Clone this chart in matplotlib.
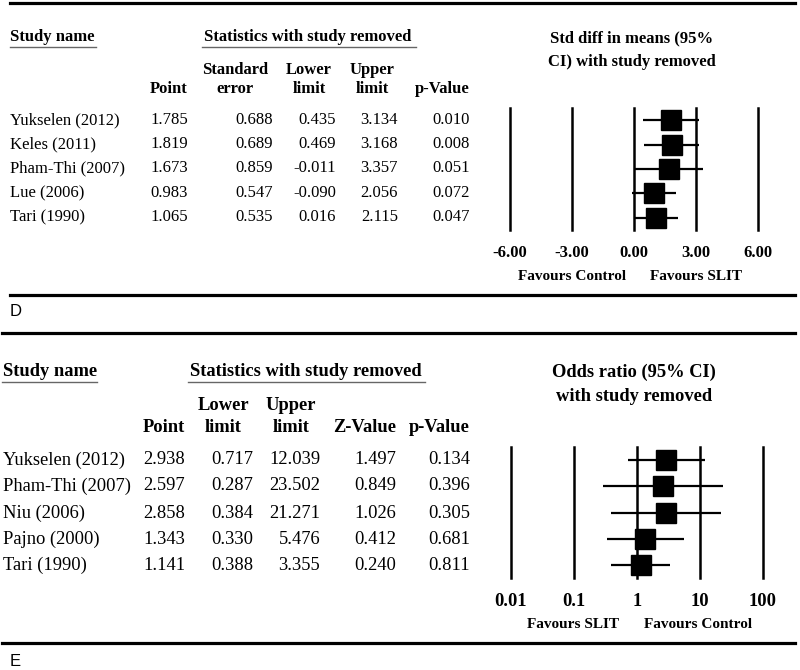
"""
Leave-one-out sensitivity tables with forest plots (panels D and E).
"""

import numpy as np
import matplotlib
matplotlib.use('Agg')
import matplotlib.pyplot as plt
from matplotlib.lines import Line2D

W, H = 800, 670

# ---- panel D data: std diff in means ----
studies_d = ['Yukselen (2012)', 'Keles (2011)', 'Pham-Thi (2007)', 'Lue (2006)', 'Tari (1990)']
point_d = [1.785, 1.819, 1.673, 0.983, 1.065]
se_d = [0.688, 0.689, 0.859, 0.547, 0.535]
lower_d = [0.435, 0.469, -0.011, -0.090, 0.016]
upper_d = [3.134, 3.168, 3.357, 2.056, 2.115]
pval_d = [0.010, 0.008, 0.051, 0.072, 0.047]
ticks_d = [-6, -3, 0, 3, 6]

# ---- panel E data: odds ratio ----
studies_e = ['Yukselen (2012)', 'Pham-Thi (2007)', 'Niu (2006)', 'Pajno (2000)', 'Tari (1990)']
point_e = [2.938, 2.597, 2.858, 1.343, 1.141]
lower_e = [0.717, 0.287, 0.384, 0.330, 0.388]
upper_e = [12.039, 23.502, 21.271, 5.476, 3.355]
zval_e = [1.497, 0.849, 1.026, 0.412, 0.240]
pval_e = [0.134, 0.396, 0.305, 0.681, 0.811]
ticks_e = [0.01, 0.1, 1, 10, 100]
ticklabels_e = ['0.01', '0.1', '1', '10', '100']

SERIF = 'Liberation Serif'

fig = plt.figure(figsize=(W / 100, H / 100), dpi=100)


def fx(x):
    return x / W


def fy(y):
    return 1 - y / H


def txt(x, y, s, size, bold=False, ha='left', **kw):
    fig.text(fx(x), fy(y), s, fontsize=size, family=SERIF,
             fontweight='bold' if bold else 'normal', ha=ha, va='center', **kw)


def hrule(x0, x1, y, lw=2.3, color='black'):
    fig.add_artist(Line2D([fx(x0), fx(x1)], [fy(y), fy(y)], lw=lw, color=color,
                          transform=fig.transFigure))


def forest(left, right, top, bottom, point, lo, hi, ticks, ticklabels, log, fav, size):
    ax = fig.add_axes([fx(left), fy(bottom), fx(right - left), (bottom - top) / H])
    n = len(point)
    ys = np.arange(n)
    if log:
        ax.set_xscale('log')
    ax.set_xlim(ticks[0], ticks[-1])
    ax.set_ylim(n - 0.5, -0.5)
    for t in ticks:
        ax.axvline(t, color='black', lw=1.8, clip_on=False)
    ax.hlines(ys, lo, hi, color='black', lw=1.6)
    ax.plot(point, ys, 's', color='black', ms=14.5)
    ax.set_xticks(ticks)
    ax.set_xticklabels(ticklabels)
    ax.minorticks_off()
    ax.set_yticks([])
    ax.tick_params(axis='x', length=0, pad=11)
    for lab in ax.get_xticklabels():
        lab.set_fontfamily(SERIF)
        lab.set_fontweight('bold')
        lab.set_fontsize(size)
    for sp in ax.spines.values():
        sp.set_visible(False)
    ax.patch.set_alpha(0)
    return ax


# ================= Panel D =================
sd = 12
hrule(10, 795, 3)
txt(10, 37, 'Study name', sd, bold=True)
hrule(10, 96, 47, lw=1, color='#666666')
txt(308, 37, 'Statistics with study removed', sd, bold=True, ha='center')
hrule(202, 416, 47, lw=1, color='#666666')

txt(188, 89, 'Point', sd, bold=True, ha='right')
txt(235, 70, 'Standard', sd, bold=True, ha='center')
txt(235, 89, 'error', sd, bold=True, ha='center')
txt(309, 70, 'Lower', sd, bold=True, ha='center')
txt(309, 89, 'limit', sd, bold=True, ha='center')
txt(372, 70, 'Upper', sd, bold=True, ha='center')
txt(372, 89, 'limit', sd, bold=True, ha='center')
txt(470, 89, 'p-Value', sd, bold=True, ha='right')

rows_d = [120, 144, 168, 193, 217]
for i, y in enumerate(rows_d):
    txt(10, y, studies_d[i], sd)
    txt(188, y, f'{point_d[i]:.3f}', sd, ha='right')
    txt(273, y, f'{se_d[i]:.3f}', sd, ha='right')
    txt(336, y, f'{lower_d[i]:.3f}', sd, ha='right')
    txt(398, y, f'{upper_d[i]:.3f}', sd, ha='right')
    txt(470, y, f'{pval_d[i]:.3f}', sd, ha='right')

txt(632, 38, 'Std diff in means (95%', sd, bold=True, ha='center')
txt(632, 62, 'CI) with study removed', sd, bold=True, ha='center')

ax_d = forest(510, 758, 108, 230, point_d, lower_d, upper_d, ticks_d,
              [f'{t:.2f}' for t in ticks_d], False, None, sd)
txt(572, 276, 'Favours Control', 11, bold=True, ha='center')
txt(696, 276, 'Favours SLIT', 11, bold=True, ha='center')

hrule(10, 795, 295)
fig.text(fx(10), fy(312), 'D', fontsize=12, family='Liberation Sans', va='center')

# ================= Panel E =================
se_ = 13.3
hrule(2, 795, 333)
txt(3, 372, 'Study name', se_, bold=True)
hrule(2, 97, 382, lw=1, color='#666666')
txt(306, 372, 'Statistics with study removed', se_, bold=True, ha='center')
hrule(188, 425, 382, lw=1, color='#666666')

txt(185, 427, 'Point', se_, bold=True, ha='right')
txt(223, 406, 'Lower', se_, bold=True, ha='center')
txt(223, 427, 'limit', se_, bold=True, ha='center')
txt(291, 406, 'Upper', se_, bold=True, ha='center')
txt(291, 427, 'limit', se_, bold=True, ha='center')
txt(396, 427, 'Z-Value', se_, bold=True, ha='right')
txt(470, 427, 'p-Value', se_, bold=True, ha='right')

rows_e = [460, 486, 513, 539, 565]
for i, y in enumerate(rows_e):
    txt(3, y, studies_e[i], se_)
    txt(185, y, f'{point_e[i]:.3f}', se_, ha='right')
    txt(253, y, f'{lower_e[i]:.3f}', se_, ha='right')
    txt(320, y, f'{upper_e[i]:.3f}', se_, ha='right')
    txt(396, y, f'{zval_e[i]:.3f}', se_, ha='right')
    txt(470, y, f'{pval_e[i]:.3f}', se_, ha='right')

txt(634, 372, 'Odds ratio (95% CI)', se_, bold=True, ha='center')
txt(634, 397, 'with study removed', se_, bold=True, ha='center')

ax_e = forest(511, 763, 447, 578, point_e, lower_e, upper_e, ticks_e,
              ticklabels_e, True, None, se_)
txt(573, 625, 'Favours SLIT', 11, bold=True, ha='center')
txt(698, 625, 'Favours Control', 11, bold=True, ha='center')

hrule(2, 795, 643)
fig.text(fx(10), fy(661), 'E', fontsize=12, family='Liberation Sans', va='center')

fig.savefig('out.png', dpi=100)
